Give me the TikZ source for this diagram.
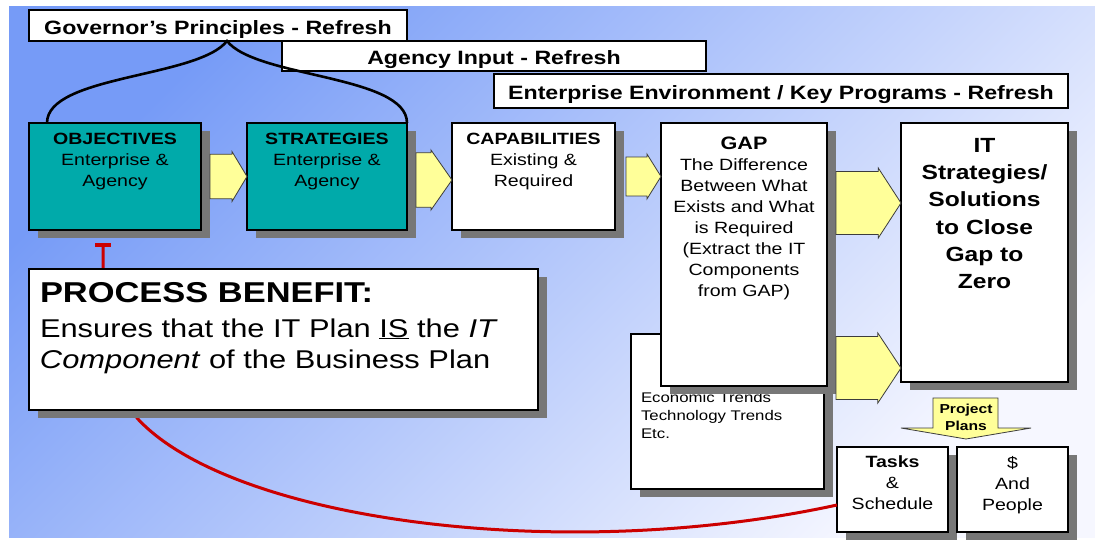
\documentclass[tikz,border=0pt]{standalone}
\usepackage{fontspec}
\setmainfont{Liberation Sans}[FakeStretch=1.2]
\usetikzlibrary{positioning,shapes.arrows,shadows,arrows.meta}

\definecolor{bgtop}{RGB}{118,155,247}
\definecolor{bgmid}{RGB}{206,216,253}
\definecolor{bgbot}{RGB}{246,247,255}
\definecolor{tealfill}{RGB}{0,170,170}
\definecolor{shadowgray}{RGB}{119,119,119}
\definecolor{arrowfill}{RGB}{255,255,153}
\definecolor{arrowline}{RGB}{60,60,60}
\definecolor{feedred}{RGB}{204,0,0}

% box contents: width, height, top gap, lines
\newcommand{\boxtext}[4]{\parbox[c][#2][t]{#1}{\centering\vspace*{#3}#4}}

\begin{document}
\begin{tikzpicture}
[x=1pt,y=-1pt,
 every node/.style={inner sep=0pt,outer sep=0pt},
 hdr/.style={draw=black,fill=white,line width=1.2pt,anchor=north west,text height=17pt,text depth=0pt,font=\fontsize{19.3}{23}\selectfont\bfseries},
 panel/.style={draw=black,fill=white,line width=1.2pt,drop shadow={shadow xshift=9pt,shadow yshift=-8pt,fill=shadowgray,opacity=1}},
 goal/.style={panel,fill=tealfill},
 boxfont/.style={font=\fontsize{16.3}{21}\selectfont},
 blockfill/.style={draw=arrowline,fill=arrowfill,line width=0.8pt},
 fatarrow/.style={blockfill,single arrow,inner xsep=0pt,single arrow head extend=2pt,single arrow head indent=0pt,anchor=tip},
 curly/.style={line width=2.6pt},
 feedback/.style={draw=feedred,line width=3pt,-{Bar[width=16pt,line width=4pt]}}]
\useasboundingbox (0,0) rectangle (1095,539);
\shade[top color=bgtop,middle color=bgmid,bottom color=bgbot,shading angle=45] (9,6) rectangle (1095,537);

% refresh banners
\node[hdr,minimum width=378pt,minimum height=31pt] (gov) at (29,10) {Governor's Principles - Refresh};
\node[hdr,minimum width=424pt,minimum height=30pt] (agency) at (282,41) {Agency Input - Refresh};
\node[hdr,minimum width=574pt,minimum height=34pt] (env) at (494,74) {Enterprise Environment / Key Programs - Refresh};

% main row
\node[goal,boxfont,anchor=north west] (obj) at (29,123) {\boxtext{172pt}{107pt}{10pt}{\textbf{OBJECTIVES}\\Enterprise \&\\Agency}};
\node[goal,boxfont,right=46pt of obj] (str) {\boxtext{160pt}{107pt}{10pt}{\textbf{STRATEGIES}\\Enterprise \&\\Agency}};
\node[panel,boxfont,right=45pt of str] (cap) {\boxtext{163pt}{107pt}{10pt}{\textbf{CAPABILITIES}\\Existing \&\\Required}};
\node[panel,anchor=north west] (econ) at (631,334) {\boxtext{193pt}{155pt}{58pt}{\fontsize{14}{18}\selectfont\raggedright\leftskip=10pt Economic Trends\\Technology Trends\\Etc.}};
\node[panel,boxfont,right=46pt of cap.north east,anchor=north west] (gap) {\boxtext{166pt}{263pt}{14pt}{{\fontsize{18}{21}\selectfont\bfseries GAP}\\The Difference\\Between What\\Exists and What\\is Required\\(Extract the IT\\Components\\from GAP)}};
\node[panel,right=74pt of gap.north east,anchor=north west,font=\fontsize{20.5}{27.3}\selectfont\bfseries] (its) {\boxtext{167pt}{259pt}{15pt}{IT\\Strategies/\\Solutions\\to Close\\Gap to\\Zero}};
\node[panel,boxfont,anchor=north west] (tasks) at (837,447) {\boxtext{111pt}{85pt}{9pt}{\textbf{Tasks}\\\&\\Schedule}};
\node[panel,boxfont,right=9pt of tasks] (money) {\boxtext{111pt}{85pt}{9pt}{\$\\And\\People}};

% brace from the principles banner
\draw[curly] ([xshift=18pt]obj.north west) .. controls (47,75) and (198,78) .. ([xshift=9pt]gov.south)
             .. controls (256,78) and (407,75) .. (str.north east);

% yellow flow arrows
\node[fatarrow,inner ysep=16pt,minimum height=37pt,minimum width=50pt,single arrow tip angle=118] (ar1) at (str.west) {};
\node[fatarrow,inner ysep=19.5pt,minimum height=36pt,minimum width=60pt,single arrow tip angle=110] (ar2) at ([yshift=-3.5pt]cap.west) {};
\node[fatarrow,inner ysep=12.5pt,minimum height=35pt,minimum width=45pt,single arrow tip angle=116] (ar3) at (gap.west |- cap.west) {};
\node[fatarrow,inner ysep=18pt,minimum height=65pt,minimum width=70pt,single arrow tip angle=114] (ar4) at ([yshift=49.5pt]its.west) {};
\node[fatarrow,inner ysep=17.5pt,minimum height=65pt,minimum width=70pt,single arrow tip angle=113] (ar5) at ([yshift=-115.5pt]its.west) {};

% project plans
\draw[blockfill] (933,398) -- (933,428) -- (901,428) -- (966,439) -- (1031,428) -- (998,428) -- (998,398) -- cycle;
\node[font=\fontsize{13}{17}\selectfont\bfseries,align=center] (plantxt) at (966,417) {Project\\Plans};

% feedback loop
\coordinate (fb) at ([xshift=-12pt,yshift=-13pt]obj.south);
\draw[feedback] ([yshift=-15.5pt]tasks.west) .. controls (560,565) and (230,520) .. (137,418) -- (103,300) -- (fb);

\node[panel,anchor=north west] (benefit) at (29,269) {\boxtext{509pt}{141pt}{13pt}{\raggedright\leftskip=11pt\fontsize{25.7}{31}\selectfont{\fontsize{28.7}{31}\selectfont\bfseries PROCESS BENEFIT:}\\[4pt]Ensures that the IT Plan \underline{IS} the \textit{IT}\\\textit{Component} of the Business Plan}};
\end{tikzpicture}
\end{document}
